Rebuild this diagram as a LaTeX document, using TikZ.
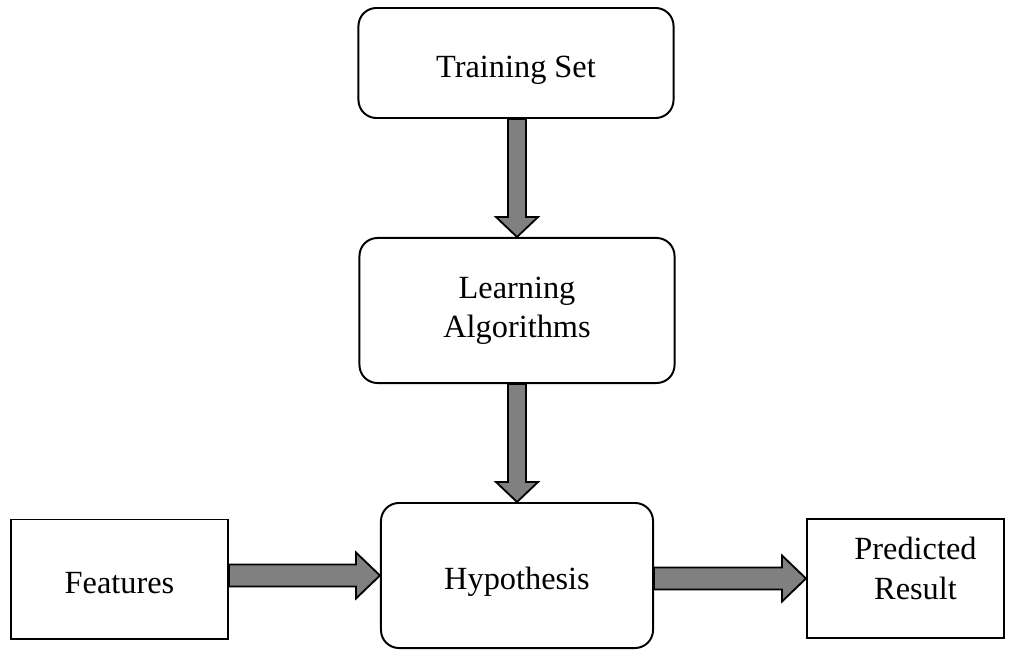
\documentclass[tikz,border=0pt]{standalone}
\usepackage{fontspec}
\setmainfont{Liberation Serif}
\usetikzlibrary{calc}
\tikzset{
  rbox/.style={draw,rounded corners=0.45cm,line width=1.4pt,align=center},
  sbox/.style={draw,line width=1.4pt,align=center},
  oneline/.style={text height=20pt,text depth=0pt},
  fatarrow/.style={draw,fill=gray,line width=1.3pt,line join=miter}
}
% thick grey block arrows between two nodes
\newcommand{\fatdown}[2]{%
  \draw[fatarrow] ($(#2 |- #1)+(-9,0)$) -- ($(#2)+(-9,-20)$) -- ($(#2)+(-21,-20)$) -- (#2)
    -- ($(#2)+(21,-20)$) -- ($(#2)+(9,-20)$) -- ($(#2 |- #1)+(9,0)$) -- cycle;}
\newcommand{\fatright}[2]{%
  \draw[fatarrow] ($(#1 |- #2)+(0,-11)$) -- ($(#2)+(-24,-11)$) -- ($(#2)+(-24,-23)$) -- (#2)
    -- ($(#2)+(-24,23)$) -- ($(#2)+(-24,11)$) -- ($(#1 |- #2)+(0,11)$) -- cycle;}
\begin{document}
\begin{tikzpicture}[x=0.025cm,y=-0.025cm,font=\fontsize{23}{28}\selectfont]
	\useasboundingbox (0,0) rectangle (1014,650);
	\node[rbox,oneline,minimum width=7.875cm,minimum height=2.75cm] (ts) at (516,63) {Training Set};
	\node[rbox,minimum width=7.875cm,minimum height=3.625cm] (la) at (517,310.5) {Learning\\Algorithms};
	\node[rbox,oneline,minimum width=6.8cm,minimum height=3.625cm] (hy) at (517,575.5) {Hypothesis};
	\node[sbox,oneline,minimum width=5.425cm,minimum height=2.975cm] (fe) at (119.5,579) {Features};
	\node[sbox,minimum width=4.925cm,minimum height=2.975cm] (pr) at (905.5,578.5) {};
	\node[align=center] at ($(pr)+(10,-10)$) {Predicted\\Result};
	\fatdown{ts.south}{la.north}
	\fatdown{la.south}{hy.north}
	\fatright{fe.east}{hy.west}
	\fatright{hy.east}{pr.west}
\end{tikzpicture}
\end{document}
